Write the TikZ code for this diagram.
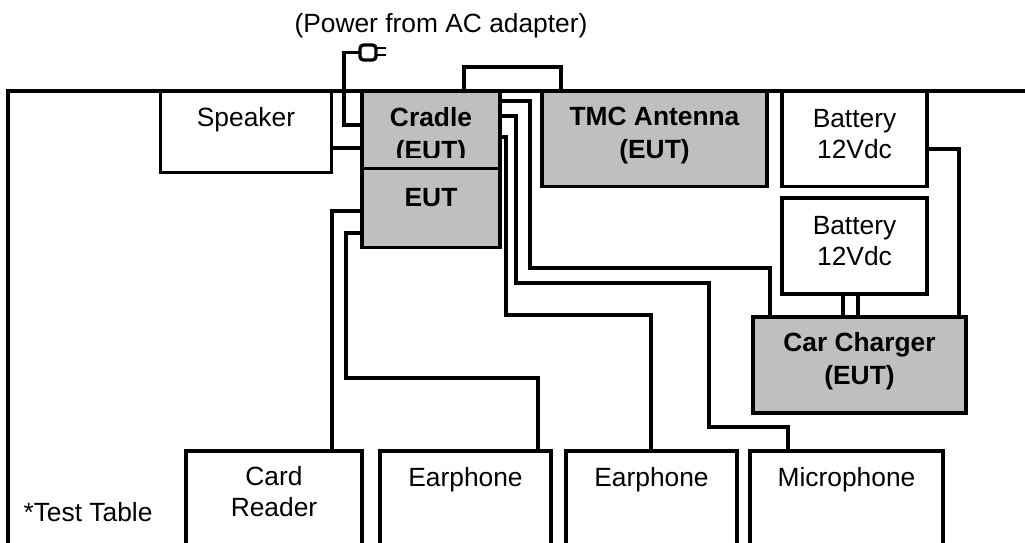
\documentclass[tikz,border=0pt]{standalone}
\usepackage{fontspec}
\setmainfont{Liberation Sans}
\usepackage{xcolor}
\definecolor{eutgray}{HTML}{BFBFBF}
\tikzset{
  box/.style={draw=black,line width=1.9pt,outer sep=0pt,inner sep=0pt,fill=white},
  eutbox/.style={box,fill=eutgray},
  txt/.style={align=center,inner sep=0pt,font=\fontsize{15}{17.6}\selectfont},
  euttxt/.style={txt,font=\fontsize{15}{18.8}\selectfont\bfseries},
  wire/.style={draw=black,line width=1.9pt}
}
\begin{document}
\begin{tikzpicture}[x=0.02cm,y=-0.02cm]
\useasboundingbox (0,0) rectangle (1025,543);
\begin{scope}
\clip (0,0) rectangle (1025,543);
\node[box,fill=none,minimum width=22cm,minimum height=12cm] (table) at (558,391) {};
\node[box,minimum width=3.42cm,minimum height=1.62cm] (speaker) at (246,132) {};
\node[eutbox,minimum width=2.76cm,minimum height=1.54cm] (cradle) at (431,130) {};
\node[eutbox,minimum width=2.76cm,minimum height=1.58cm] (eut) at (431,208) {};
\node[eutbox,minimum width=4.5cm,minimum height=1.9cm] (tmc) at (654.5,139) {};
\node[box,minimum width=2.9cm,minimum height=1.9cm] (batteryone) at (854.5,139) {};
\node[box,minimum width=2.9cm,minimum height=1.92cm] (batterytwo) at (854.5,246) {};
\node[eutbox,minimum width=4.26cm,minimum height=1.92cm] (charger) at (859.5,365) {};
\node[box,minimum width=3.52cm,minimum height=4cm] (reader) at (274,551) {};
\node[box,minimum width=3.42cm,minimum height=4cm] (earone) at (465.5,551) {};
\node[box,minimum width=3.42cm,minimum height=4cm] (eartwo) at (651.5,551) {};
\node[box,minimum width=3.86cm,minimum height=4cm] (mic) at (846.5,551) {};
\end{scope}
% the second line of the cradle text is cut off
\begin{scope}
\clip (362,93) rectangle (498,158);
\node[euttxt] (cradletxt) at (431,136) {Cradle\\(EUT)};
\end{scope}
% text in the boxes
\node[txt] (speakertxt) at (246,120) {Speaker};
\node[euttxt] (euttxt) at (431,198) {EUT};
\node[euttxt] (tmctxt) at (654.5,136) {TMC Antenna\\(EUT)};
\node[txt] (batteryonetxt) at (854.5,134) {Battery\\12Vdc};
\node[txt] (batterytwotxt) at (854.5,241) {Battery\\12Vdc};
\node[euttxt] (chargertxt) at (859.5,361) {Car Charger\\(EUT)};
\node[txt] (readertxt) at (274,492) {Card\\Reader};
\node[txt] (earonetxt) at (465.5,480) {Earphone};
\node[txt] (eartwotxt) at (651.5,480) {Earphone};
\node[txt] (mictxt) at (846.5,480) {Microphone};
\node[txt] (tabletxt) at (88,512) {*Test Table};
\node[txt] (powertxt) at (441,26) {(Power from AC adapter)};
% plug
\node[box,rounded corners=2pt,minimum width=0.32cm,minimum height=0.3cm] (plug) at (368,52.5) {};
\coordinate (prongone) at (386,48);
\coordinate (prongtwo) at (386,55);
\draw[wire,line width=1.5pt] (plug.east |- prongone) -- (prongone);
\draw[wire,line width=1.5pt] (plug.east |- prongtwo) -- (prongtwo);
% wires
\draw[wire] (plug.west) -| (344,125) -- (cradle.west |- 0,125);
\draw[wire] (speaker.east |- 0,148) -- (cradle.west |- 0,148);
\draw[wire] (eut.west |- 0,211) -| (reader.north -| 332,0);
\draw[wire] (eut.west |- 0,233) -| (346,378) -| (earone.north -| 538,0);
\draw[wire] (cradle.north -| 464,0) |- (561,67) -- (tmc.north -| 561,0);
\draw[wire] (cradle.east |- 0,101) -| (530,268) -| (charger.north -| 770,0);
\draw[wire] (cradle.east |- 0,116) -| (516,283) -| (709,427) -| (mic.north -| 788,0);
\draw[wire] (cradle.east |- 0,137) -| (506,315) -| (eartwo.north -| 651,0);
\draw[wire] (batterytwo.south -| 843,0) -- (charger.north -| 843,0);
\draw[wire] (batterytwo.south -| 858,0) -- (charger.north -| 858,0);
\draw[wire] (batteryone.east |- 0,149) -| (charger.north -| 959,0);
\end{tikzpicture}
\end{document}
